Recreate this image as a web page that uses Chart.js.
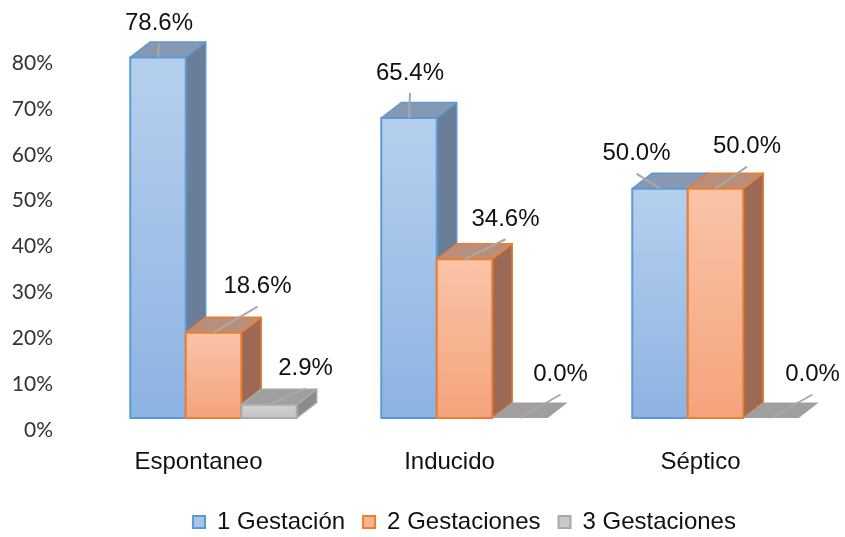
<!DOCTYPE html>
<html lang="es">
<head>
<meta charset="utf-8">
<title>Tipo de aborto según número de gestaciones</title>
<script src="https://cdn.jsdelivr.net/npm/chart.js@4.4.1/dist/chart.umd.min.js"></script>
<style>
  html, body { margin: 0; padding: 0; background: #fff; }
  canvas { display: block; }
</style>
</head>
<body>
<canvas id="chart" width="845" height="537"></canvas>
<script>
const categories = ['Espontaneo', 'Inducido', 'Séptico'];
const seriesNames = ['1 Gestación', '2 Gestaciones', '3 Gestaciones'];
const unaGestacion = [78.6, 65.4, 50.0];
const dosGestaciones = [18.6, 34.6, 50.0];
const tresGestaciones = [2.9, 0.0, 0.0];
const yTicks = [0, 10, 20, 30, 40, 50, 60, 70, 80];

// value label position relative to the top-centre of each column, per series
const labelShift = [
    [[1, -34], [1, -45], [-23.5, -35]],
    [[44, -46], [41, -40], [31.5, -42]],
    [[36.5, -36], [40.5, -43.5], [41.5, -43.5]]
];

const palette = [
    { light: '#b6cfee', dark: '#8db3e2', line: '#5b9bd5', top: '#8698b2', side: '#6b7e98', legend: '#a9c6ea' },
    { light: '#f9c4a8', dark: '#f5a37c', line: '#ed7d31', top: '#b98e7a', side: '#9c6a54', legend: '#f7b593' },
    { light: '#d2d2d2', dark: '#c2c2c2', line: '#a9a9a9', top: '#9f9f9f', side: '#8c8c8c', legend: '#c9c9c9' }
];

const DX = 20;
const DY = -15.5;
const TEXT_FONT = "'Liberation Sans', Arial, sans-serif";

function face(ctx, pts, fill, stroke) {
    ctx.beginPath();
    ctx.moveTo(pts[0][0], pts[0][1]);
    for (let i = 1; i < pts.length; i++) ctx.lineTo(pts[i][0], pts[i][1]);
    ctx.closePath();
    ctx.fillStyle = fill;
    ctx.fill();
    if (stroke) {
        ctx.strokeStyle = stroke;
        ctx.lineWidth = 1.5;
        ctx.stroke();
    }
}

// draws the columns as boxes: side, top, then the gradient front
const columns3d = {
    id: 'columns3d',
    beforeDatasetsDraw(chart) {
        const ctx = chart.ctx;
        const tops = [];
        ctx.save();
        ctx.lineJoin = 'round';
        categories.forEach((cat, i) => {
            chart.data.datasets.forEach((ds, d) => {
                const el = chart.getDatasetMeta(d).data[i];
                const { x, y, base, width } = el.getProps(['x', 'y', 'base', 'width'], true);
                const c = palette[d];
                const l = x - width / 2;
                const r = x + width / 2;
                tops.push({ d, i, x, y, value: ds.data[i] });
                if (base - y < 0.5) {
                    face(ctx, [[l, base], [r, base], [r + DX, base + DY], [l + DX, base + DY]], c.top, null);
                    return;
                }
                face(ctx, [[r, y], [r + DX, y + DY], [r + DX, base + DY], [r, base]], c.side, c.line);
                face(ctx, [[l, y], [r, y], [r + DX, y + DY], [l + DX, y + DY]], c.top, c.line);
                const g = ctx.createLinearGradient(0, y, 0, base);
                g.addColorStop(0, c.light);
                g.addColorStop(1, c.dark);
                ctx.fillStyle = g;
                ctx.fillRect(l, y, width, base - y);
                ctx.strokeStyle = c.line;
                ctx.lineWidth = 2;
                ctx.strokeRect(l, y, width, base - y);
            });
        });

        // leader lines and value labels
        ctx.font = '24px ' + TEXT_FONT;
        ctx.textAlign = 'center';
        ctx.textBaseline = 'middle';
        tops.forEach(t => {
            const [sx, sy] = labelShift[t.d][t.i];
            const lx = t.x + sx;
            const ly = t.y + sy;
            ctx.beginPath();
            ctx.moveTo(t.x, t.y);
            ctx.lineTo(lx, ly + 20);
            ctx.strokeStyle = '#a9a9a9';
            ctx.lineWidth = 2;
            ctx.stroke();
            ctx.fillStyle = '#111';
            ctx.fillText(t.value.toFixed(1) + '%', lx, ly);
        });
        ctx.restore();
        return false;
    }
};

const seriesValues = [unaGestacion, dosGestaciones, tresGestaciones];

new Chart(document.getElementById('chart'), {
    type: 'bar',
    data: {
        labels: categories,
        datasets: seriesNames.map((name, d) => ({
            label: name,
            data: seriesValues[d],
            backgroundColor: palette[d].legend,
            borderColor: palette[d].line,
            borderWidth: 2
        }))
    },
    options: {
        responsive: false,
        devicePixelRatio: 1,
        animation: false,
        events: [],
        layout: { padding: { top: 51, right: 4, bottom: -7, left: 0 } },
        datasets: {
            bar: { categoryPercentage: 0.6633, barPercentage: 1 }
        },
        scales: {
            x: {
                grid: { display: false, drawTicks: false },
                border: { display: false },
                ticks: {
                    labelOffset: -15,
                    padding: 30,
                    color: '#111',
                    font: { family: TEXT_FONT, size: 24 }
                },
                afterFit: (scale) => { scale.height = 74; }
            },
            y: {
                min: 0,
                max: 80,
                grid: { display: false, drawTicks: false },
                border: { display: false },
                afterBuildTicks: (scale) => { scale.ticks = yTicks.map(v => ({ value: v })); },
                ticks: {
                    callback: (v) => v + '%',
                    labelOffset: 12,
                    padding: 35,
                    color: '#333',
                    font: { family: "Lato, 'Open Sans', sans-serif", size: 21 }
                },
                afterFit: (scale) => { scale.width = 88; }
            }
        },
        plugins: {
            tooltip: { enabled: false },
            legend: {
                position: 'bottom',
                fullSize: false,
                labels: {
                    boxWidth: 12,
                    boxHeight: 12,
                    padding: 18,
                    color: '#111',
                    font: { family: TEXT_FONT, size: 24 }
                }
            }
        }
    },
    plugins: [columns3d]
});
</script>
</body>
</html>
